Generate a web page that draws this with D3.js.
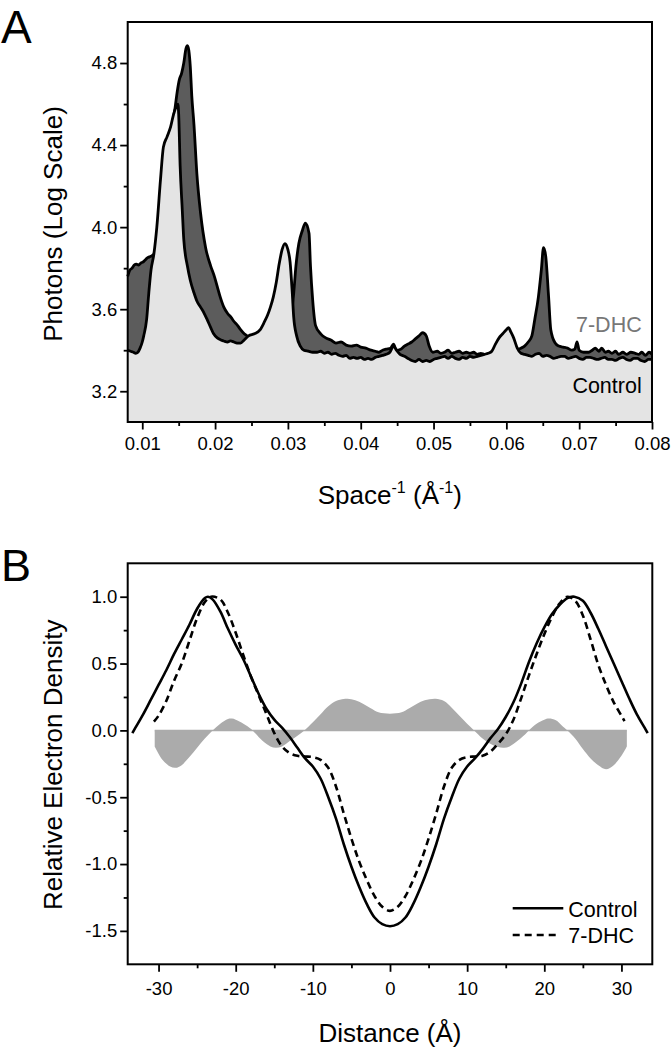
<!DOCTYPE html>
<html><head><meta charset="utf-8">
<script src="https://cdn.jsdelivr.net/npm/d3@7"></script>
<style>
body{margin:0;background:#fff}
svg text{font-family:"Liberation Sans",Arial,Helvetica,sans-serif;fill:#000}
</style>
</head><body>
<svg id="chart" width="671" height="1050"></svg>
<script>
// ---------- Panel A data: scattering intensity (log photons) ----------
const ctrlX = [0.0080,0.0084,0.0088,0.0091,0.0094,0.0097,0.0100,0.0102,0.0106,0.0109,0.0112,0.0116,0.0120,0.0125,0.0129,0.0134,0.0139,0.0143,0.0147,0.0149,0.0150,0.0152,0.0155,0.0157,0.0162,0.0166,0.0171,0.0175,0.0180,0.0185,0.0189,0.0194,0.0198,0.0203,0.0208,0.0212,0.0217,0.0221,0.0226,0.0230,0.0235,0.0240,0.0246,0.0254,0.0262,0.0268,0.0272,0.0276,0.0280,0.0284,0.0288,0.0292,0.0296,0.0300,0.0303,0.0306,0.0308,0.0312,0.0317,0.0322,0.0328,0.0334,0.0340,0.0345,0.0350,0.0355,0.0360,0.0365,0.0370,0.0375,0.0380,0.0385,0.0390,0.0395,0.0400,0.0405,0.0410,0.0415,0.0420,0.0425,0.0430,0.0435,0.0440,0.0445,0.0449,0.0454,0.0460,0.0465,0.0470,0.0475,0.0480,0.0485,0.0490,0.0495,0.0500,0.0505,0.0510,0.0515,0.0520,0.0525,0.0530,0.0535,0.0540,0.0545,0.0550,0.0555,0.0560,0.0565,0.0570,0.0575,0.0580,0.0585,0.0590,0.0595,0.0600,0.0603,0.0606,0.0610,0.0615,0.0620,0.0625,0.0630,0.0635,0.0640,0.0645,0.0650,0.0655,0.0660,0.0665,0.0670,0.0675,0.0680,0.0685,0.0690,0.0695,0.0700,0.0705,0.0710,0.0715,0.0720,0.0725,0.0730,0.0735,0.0740,0.0745,0.0750,0.0755,0.0760,0.0765,0.0770,0.0775,0.0780,0.0785,0.0790,0.0795,0.0800];
const ctrlY = [3.40,3.395,3.39,3.385,3.39,3.41,3.44,3.47,3.55,3.68,3.79,3.87,4.00,4.23,4.39,4.44,4.49,4.55,4.59,4.60,4.55,4.30,4.08,3.94,3.81,3.74,3.68,3.64,3.61,3.58,3.55,3.51,3.48,3.46,3.45,3.445,3.44,3.445,3.44,3.435,3.435,3.45,3.47,3.48,3.50,3.54,3.57,3.61,3.66,3.73,3.82,3.89,3.92,3.89,3.83,3.68,3.56,3.47,3.42,3.40,3.395,3.39,3.39,3.395,3.385,3.39,3.38,3.385,3.375,3.37,3.375,3.36,3.365,3.36,3.365,3.355,3.36,3.355,3.365,3.37,3.375,3.38,3.39,3.42,3.40,3.38,3.37,3.36,3.35,3.345,3.355,3.345,3.35,3.345,3.355,3.36,3.365,3.37,3.36,3.37,3.36,3.355,3.365,3.36,3.37,3.365,3.37,3.375,3.38,3.385,3.395,3.43,3.46,3.48,3.50,3.51,3.49,3.46,3.41,3.385,3.38,3.375,3.37,3.38,3.385,3.37,3.375,3.37,3.36,3.365,3.37,3.37,3.36,3.365,3.37,3.36,3.355,3.365,3.365,3.36,3.355,3.36,3.365,3.355,3.355,3.35,3.36,3.365,3.355,3.35,3.36,3.36,3.35,3.345,3.355,3.355,3.34];

const dhcX = [0.0080,0.0083,0.0086,0.0089,0.0092,0.0095,0.0098,0.0101,0.0104,0.0107,0.0110,0.0113,0.0116,0.0120,0.0125,0.0130,0.0135,0.0140,0.0145,0.0148,0.0151,0.0154,0.0157,0.0160,0.0162,0.0164,0.0166,0.0168,0.0171,0.0175,0.0180,0.0187,0.0194,0.0199,0.0203,0.0207,0.0212,0.0217,0.0222,0.0226,0.0231,0.0235,0.0240,0.0244,0.0250,0.0260,0.0270,0.0280,0.0290,0.0300,0.0305,0.0308,0.0311,0.0315,0.0320,0.0324,0.0329,0.0331,0.0334,0.0338,0.0345,0.0352,0.0359,0.0366,0.0373,0.0380,0.0387,0.0394,0.0400,0.0407,0.0414,0.0420,0.0425,0.0430,0.0435,0.0441,0.0445,0.0449,0.0455,0.0460,0.0465,0.0470,0.0475,0.0480,0.0485,0.0490,0.0494,0.0499,0.0505,0.0510,0.0515,0.0520,0.0525,0.0530,0.0535,0.0540,0.0545,0.0550,0.0555,0.0560,0.0565,0.0570,0.0580,0.0590,0.0600,0.0610,0.0620,0.0625,0.0630,0.0635,0.0639,0.0644,0.0648,0.0651,0.0654,0.0658,0.0661,0.0667,0.0672,0.0678,0.0684,0.0690,0.0694,0.0697,0.0700,0.0706,0.0713,0.0718,0.0722,0.0727,0.0731,0.0736,0.0740,0.0745,0.0750,0.0754,0.0760,0.0765,0.0771,0.0777,0.0782,0.0786,0.0791,0.0796,0.0800];
const dhcY = [3.76,3.79,3.80,3.815,3.82,3.815,3.825,3.83,3.84,3.85,3.855,3.86,3.87,3.92,4.05,4.20,4.35,4.48,4.58,4.66,4.72,4.75,4.80,4.87,4.885,4.86,4.78,4.64,4.50,4.26,4.07,3.90,3.81,3.76,3.71,3.66,3.61,3.58,3.56,3.54,3.52,3.50,3.48,3.47,3.46,3.45,3.45,3.46,3.48,3.52,3.58,3.68,3.81,3.92,3.985,4.02,3.97,3.81,3.645,3.52,3.48,3.46,3.45,3.435,3.44,3.425,3.42,3.425,3.415,3.41,3.40,3.395,3.39,3.40,3.405,3.41,3.43,3.40,3.405,3.42,3.43,3.44,3.455,3.47,3.485,3.47,3.42,3.39,3.395,3.385,3.39,3.40,3.385,3.39,3.395,3.385,3.39,3.385,3.39,3.38,3.385,3.38,3.38,3.38,3.39,3.40,3.41,3.42,3.44,3.47,3.55,3.66,3.79,3.90,3.86,3.66,3.50,3.435,3.42,3.415,3.41,3.40,3.405,3.44,3.40,3.39,3.39,3.40,3.41,3.395,3.41,3.39,3.395,3.385,3.395,3.38,3.39,3.38,3.39,3.385,3.38,3.39,3.375,3.39,3.38];

const aXTicks = [0.01,0.02,0.03,0.04,0.05,0.06,0.07,0.08];
const aXMinor = [0.015,0.025,0.035,0.045,0.055,0.065,0.075];
const aYTicks = [3.2,3.6,4.0,4.4,4.8];
const aYMinor = [3.4,3.8,4.2,4.6];

// ---------- Panel B data: electron density profiles ----------
const ctrlDistX = [-33.4,-33,-32,-31,-30,-29,-28,-27,-26,-25,-24,-23.6,-23,-22,-21,-20,-19,-18,-17,-16,-15,-14,-13,-12,-11,-10,-9,-8,-7,-6,-5,-4,-3,-2,-1,0,1,2,3,4,5,6,7,8,9,10,11,12,13,14,15,16,17,18,19,20,21,22,23,23.9,25,26,27,28,29,30,31,32,33,33.4];
const ctrlDens = [-0.02,0.02,0.12,0.23,0.34,0.45,0.57,0.68,0.79,0.91,0.99,1.0,0.98,0.89,0.76,0.64,0.53,0.40,0.27,0.16,0.08,0.02,-0.05,-0.13,-0.21,-0.27,-0.36,-0.50,-0.66,-0.85,-1.02,-1.17,-1.30,-1.40,-1.45,-1.465,-1.45,-1.40,-1.30,-1.17,-1.02,-0.85,-0.66,-0.50,-0.36,-0.27,-0.21,-0.14,-0.06,0.01,0.10,0.21,0.35,0.51,0.65,0.77,0.87,0.94,0.99,1.0,0.97,0.88,0.76,0.63,0.50,0.37,0.24,0.12,0.02,-0.02];

const dhcDistX = [-30.6,-30,-29,-28,-27,-26,-25,-24,-23.2,-22,-21,-20,-19,-18,-17,-16,-15,-14,-13,-12,-11,-10,-9,-8,-7,-6,-5,-4,-3,-2,-1,0,1,2,3,4,5,6,7,8,9,10,11,12,13,14,15,16,17,18,19,20,21,22,23,24,25,26,27,28,29,30,30.4];
const dhcDens = [0.065,0.11,0.22,0.37,0.50,0.67,0.84,0.96,1.0,0.98,0.88,0.73,0.56,0.40,0.26,0.12,-0.02,-0.12,-0.17,-0.19,-0.195,-0.20,-0.22,-0.28,-0.42,-0.62,-0.81,-0.98,-1.12,-1.24,-1.32,-1.35,-1.32,-1.24,-1.12,-0.98,-0.81,-0.62,-0.42,-0.28,-0.22,-0.20,-0.195,-0.19,-0.16,-0.10,-0.03,0.08,0.24,0.41,0.57,0.72,0.85,0.95,1.0,0.97,0.86,0.68,0.49,0.34,0.21,0.11,0.07];

const diffX = [-30.5,-29.5,-28.5,-27.8,-27,-26,-25,-24,-23,-22,-21,-20.5,-20,-19,-18,-17.5,-16.5,-15.5,-14.8,-14,-13,-12,-11.1,-10,-9,-8,-7,-6,-5.5,-4.5,-3.5,-2.5,-1.5,0,1.5,2.5,3.5,4.5,5.9,7,8,9,10,10.9,12,13,14,14.8,15.5,16.5,17.5,18,19,20,20.6,21.5,22.3,23,24,25,26,27,28,29,30,30.7];
const diffV = [-0.12,-0.22,-0.27,-0.28,-0.26,-0.20,-0.13,-0.06,0,0.05,0.085,0.088,0.08,0.05,0.01,-0.02,-0.08,-0.12,-0.13,-0.12,-0.08,-0.04,0,0.06,0.12,0.18,0.22,0.235,0.237,0.225,0.20,0.165,0.135,0.125,0.135,0.165,0.20,0.225,0.237,0.22,0.17,0.11,0.05,0,-0.06,-0.10,-0.125,-0.13,-0.12,-0.08,-0.03,0,0.05,0.08,0.088,0.075,0.035,0,-0.06,-0.14,-0.21,-0.26,-0.29,-0.26,-0.19,-0.12];

const bXTicks = [-30,-20,-10,0,10,20,30];
const bXMinor = [-25,-15,-5,5,15,25];
const bYTicks = [-1.5,-1.0,-0.5,0.0,0.5,1.0];
const bYMinor = [-1.25,-0.75,-0.25,0.25,0.75];

// ---------- drawing ----------
const svg = d3.select("#chart");
const zip = (xs, ys) => xs.map((x, i) => [x, ys[i]]);

function axes(g, x, y, o) {
  const ax = g.append("g").attr("transform", `translate(0,${o.bottom})`)
    .call(d3.axisBottom(x).tickValues(o.xt).tickSize(7.5).tickPadding(o.xpad).tickFormat(o.xf));
  const axm = g.append("g").attr("transform", `translate(0,${o.bottom})`)
    .call(d3.axisBottom(x).tickValues(o.xm).tickSize(4).tickFormat(""));
  const ay = g.append("g").attr("transform", `translate(${o.left},0)`)
    .call(d3.axisLeft(y).tickValues(o.yt).tickSize(7.5).tickPadding(3).tickFormat(o.yf));
  const aym = g.append("g").attr("transform", `translate(${o.left},0)`)
    .call(d3.axisLeft(y).tickValues(o.ym).tickSize(4).tickFormat(""));
  [ax, axm, ay, aym].forEach(a => {
    a.select(".domain").remove();
    a.selectAll("line").attr("stroke", "#000").attr("stroke-width", 1.8);
    a.selectAll("text").attr("font-size", 18.5).attr("fill", "#000")
      .style("font-family", '"Liberation Sans",Arial,sans-serif');
  });
  g.append("rect").attr("x", o.left).attr("y", o.top)
    .attr("width", o.right - o.left).attr("height", o.bottom - o.top)
    .attr("fill", "none").attr("stroke", "#000").attr("stroke-width", 2);
}

// Panel A
{
  const L = 127.7, R = 652, T = 22, B = 422;
  const x = d3.scaleLinear([0.008, 0.08], [L, R]);
  const y = d3.scaleLinear([3.05, 5.0], [B, T]);
  const g = svg.append("g");
  const area = d3.area().x(d => x(d[0])).y0(B).y1(d => y(d[1])).curve(d3.curveMonotoneX);
  const line = d3.line().x(d => x(d[0])).y(d => y(d[1])).curve(d3.curveMonotoneX);
  const dhc = zip(dhcX, dhcY), ctrl = zip(ctrlX, ctrlY);
  g.append("path").datum(dhc).attr("d", area).attr("fill", "#5c5c5c");
  g.append("path").datum(dhc).attr("d", line).attr("fill", "none").attr("stroke", "#000").attr("stroke-width", 2.8).attr("stroke-linejoin", "round");
  g.append("path").datum(ctrl).attr("d", area).attr("fill", "#e4e4e4");
  g.append("path").datum(ctrl).attr("d", line).attr("fill", "none").attr("stroke", "#000").attr("stroke-width", 2.8).attr("stroke-linejoin", "round");

  axes(g, x, y, {left: L, right: R, top: T, bottom: B, xt: aXTicks, xm: aXMinor, yt: aYTicks, ym: aYMinor,
    xf: d => d.toFixed(2), yf: d => d.toFixed(1), xpad: 7});

  g.append("text").attr("x", 641.7).attr("y", 331.5).attr("text-anchor", "end")
    .attr("font-size", 21.5).style("fill", "#777").text("7-DHC");
  g.append("text").attr("x", 641.7).attr("y", 392.5).attr("text-anchor", "end")
    .attr("font-size", 21.5).text("Control");

  g.append("text").attr("transform", `translate(62,${(T + B) / 2 + 2}) rotate(-90)`)
    .attr("text-anchor", "middle").attr("font-size", 26).text("Photons (Log Scale)");
  const t = g.append("text").attr("x", (L + R) / 2).attr("y", 504).attr("text-anchor", "middle").attr("font-size", 26);
  t.append("tspan").text("Space");
  t.append("tspan").attr("font-size", 16).attr("dy", -11).text("-1");
  t.append("tspan").attr("dy", 11).text(" (Å");
  t.append("tspan").attr("font-size", 16).attr("dy", -11).text("-1");
  t.append("tspan").attr("dy", 11).text(")");
  g.append("text").attr("x", 1).attr("y", 43).attr("font-size", 46).text("A");
}

// Panel B
{
  const L = 127.7, R = 652.3, T = 563.3, B = 964.3;
  const x = d3.scaleLinear([-34, 34], [L, R]);
  const y = d3.scaleLinear([-1.75, 1.25], [B, T]);
  const g = svg.append("g");
  const diff = zip(diffX, diffV);
  g.append("path").datum(diff)
    .attr("d", d3.area().x(d => x(d[0])).y0(y(0)).y1(d => y(d[1])).curve(d3.curveCatmullRom.alpha(0.5)))
    .attr("fill", "#ababab");
  g.append("line").attr("x1", x(diffX[0])).attr("x2", x(diffX[diffX.length - 1]))
    .attr("y1", y(0)).attr("y2", y(0)).attr("stroke", "#ababab").attr("stroke-width", 1.5);
  const line = d3.line().x(d => x(d[0])).y(d => y(d[1])).curve(d3.curveCatmullRom.alpha(0.5));
  g.append("path").datum(zip(ctrlDistX, ctrlDens)).attr("d", line)
    .attr("fill", "none").attr("stroke", "#000").attr("stroke-width", 2.6);
  g.append("path").datum(zip(dhcDistX, dhcDens)).attr("d", line)
    .attr("fill", "none").attr("stroke", "#000").attr("stroke-width", 2.6).attr("stroke-dasharray", "7,4.5");

  axes(g, x, y, {left: L, right: R, top: T, bottom: B, xt: bXTicks, xm: bXMinor, yt: bYTicks, ym: bYMinor,
    xf: d => String(d), yf: d => d.toFixed(1), xpad: 10});

  g.append("line").attr("x1", 512.7).attr("x2", 563.3).attr("y1", 908.3).attr("y2", 908.3)
    .attr("stroke", "#000").attr("stroke-width", 2.6);
  g.append("line").attr("x1", 512.7).attr("x2", 560).attr("y1", 935).attr("y2", 935)
    .attr("stroke", "#000").attr("stroke-width", 2.6).attr("stroke-dasharray", "7,5");
  g.append("text").attr("x", 568.3).attr("y", 916.7).attr("font-size", 21.5).text("Control");
  g.append("text").attr("x", 568.3).attr("y", 943.3).attr("font-size", 21.5).text("7-DHC");

  g.append("text").attr("transform", `translate(62,${(T + B) / 2 + 1}) rotate(-90)`)
    .attr("text-anchor", "middle").attr("font-size", 26).text("Relative Electron Density");
  g.append("text").attr("x", (L + R) / 2).attr("y", 1041.5).attr("text-anchor", "middle")
    .attr("font-size", 26).text("Distance (Å)");
  g.append("text").attr("x", 1).attr("y", 581).attr("font-size", 45).text("B");
}
</script>
</body></html>
